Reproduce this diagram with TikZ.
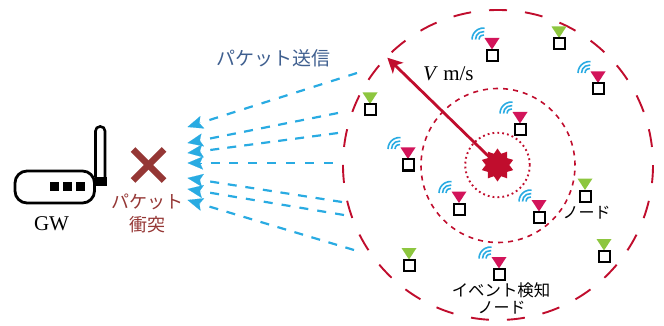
\documentclass[tikz,border=0pt]{standalone}
\usepackage{fontspec}
\setmainfont{Liberation Serif}
\newfontfamily\jp{Noto Sans CJK JP}
\usetikzlibrary{arrows.meta,calc,shapes.geometric}
\definecolor{ringred}{HTML}{C00D2D}
\definecolor{nodered}{HTML}{D2145A}
\definecolor{nodegreen}{HTML}{8DC63F}
\definecolor{skyblue}{HTML}{29ABE2}
\definecolor{brick}{HTML}{953735}
\definecolor{slateblue}{HTML}{3F5F8F}
\tikzset{
  sqbox/.style={draw=black,fill=white,line width=2pt,minimum size=11pt,inner sep=0pt,outer sep=0pt},
  ring/.style={draw=ringred,circle,inner sep=0pt,outer sep=0pt},
  wave/.style={draw=skyblue,line width=1.6pt},
  flowdash/.style={draw=skyblue,line width=2.2pt},
  flowhead/.style={draw=skyblue,line width=0.1pt,-{Stealth[length=15.5pt,width=13pt,inset=3pt,fill=skyblue]}},
  jplabel/.style={font=\jp\fontsize{#1}{#1}\selectfont,inner sep=0pt},
  serif/.style={font=\fontsize{21}{21}\selectfont,inner sep=0pt}
}
\newcommand\sensor[4]{%
  \fill[#4] (#2-7.5,#3-17.5) -- (#2+7.5,#3-17.5) -- (#2,#3-6) -- cycle;
  \node[sqbox] (#1) at (#2,#3) {};}
\newcommand\waves[2]{%
  \foreach \r in {4.5,8,11.5}{
    \draw[wave] (#1-8.5-\r,#2-16) arc[start angle=180,end angle=85,radius=\r pt];}}
\begin{document}
\begin{tikzpicture}[x=1pt,y=-1pt]
\useasboundingbox (0,0) rectangle (664,326);
% rings
\node[ring,line width=1.9pt,minimum size=310pt,dash pattern=on 18pt off 18.07pt,dash phase=18pt] (outer) at (498,165) {};
\node[ring,line width=1.6pt,minimum size=154pt,dash pattern=on 5pt off 5.08pt] (middle) at (498,165.5) {};
\node[ring,line width=1.9pt,minimum size=64.5pt,dash pattern=on 1.8pt off 3.1pt] (inner) at (497.5,165) {};
% burst and velocity arrow
\node[star,star points=10,star point ratio=1.4,fill=ringred,inner sep=0pt,minimum size=33pt] (burst) at (497.5,165) {};
\coordinate (vtip) at (387.3,57.7);
\draw[ringred,line width=2.8pt,-{Stealth[length=15pt,width=15pt,inset=4pt]}] (burst.center) -- (vtip);
\node[serif,anchor=west] (vlabel) at (423,74) {\textit{V} m/s};
% sensors
\waves{492}{55.5}\sensor{n1}{492}{55.5}{nodered}
\sensor{n2}{559}{44}{nodegreen}
\waves{598}{89}\sensor{n3}{598}{89}{nodered}
\sensor{n4}{370}{110}{nodegreen}
\waves{520}{129.5}\sensor{n5}{520}{129.5}{nodered}
\waves{408}{165}\sensor{n6}{408}{165}{nodered}
\waves{459}{209}\sensor{n7}{459}{209}{nodered}
\waves{539}{217.5}\sensor{n8}{539}{217.5}{nodered}
\sensor{n9}{585}{196}{nodegreen}
\sensor{n10}{604}{256.5}{nodegreen}
\waves{499}{274.5}\sensor{n11}{499}{274.5}{nodered}
\sensor{n12}{409}{265.5}{nodegreen}
% labels
\node[jplabel=16] (lnode) at (586.5,213) {ノード};
\node[jplabel=16.4] (levent) at (501,290) {イベント検知};
\node[jplabel=16] (levent2) at (501.5,308) {ノード};
\node[jplabel=19,text=slateblue] (lsend) at (273.5,58) {パケット送信};
\node[jplabel=18,text=brick] (lcoll1) at (147.5,202) {パケット};
\node[jplabel=18,text=brick] (lcoll2) at (147.5,225) {衝突};
\node[serif] (lgw) at (51.5,224) {GW};
% packet arrows
\foreach \i/\sx/\sy/\tx/\ty in {
  1/357/73/187.5/127,
  2/338/113/187.5/143,
  3/338/133/187.5/153,
  4/333/163/187.5/163,
  5/342/202/187.5/178,
  6/344/215/187.5/189,
  7/354/250/187.5/200}{
  \coordinate (s\i) at (\sx,\sy);
  \coordinate (t\i) at (\tx,\ty);
  \pgfmathsetmacro\dlen{veclen(\sx-\tx,\sy-\ty)-23}
  \pgfmathsetmacro\dper{(\dlen-9)/round((\dlen-9)/17.5)}
  \pgfmathsetmacro\doff{\dper-9}
  \draw[flowdash,dash pattern=on 9pt off \doff pt] ($(t\i)!23pt!(s\i)$) -- (s\i);
  \draw[flowhead] ($(t\i)!14pt!(s\i)$) -- (t\i);
}
% collision cross
\coordinate (xc) at (148.5,165);
\draw[brick,line width=6.5pt] ($(xc)+(-15.5,-15.5)$) -- ($(xc)+(15.5,15.5)$);
\draw[brick,line width=6.5pt] ($(xc)+(15.5,-15.5)$) -- ($(xc)+(-15.5,15.5)$);
% gateway
\draw[black,line width=2.6pt,rounded corners=4.5pt,fill=white] (95.5,177) -- (95.5,126.5) -- (105,126.5) -- (105,177);
\fill[black] (95,177) rectangle (106.7,186);
\draw[black,line width=2.8pt,rounded corners=12pt] (15,171) rectangle (94.5,203);
\fill[black] (49.5,181.5) rectangle (58.5,191);
\fill[black] (62.5,181.5) rectangle (71.5,191);
\fill[black] (75.5,181.5) rectangle (84.5,191);
\end{tikzpicture}
\end{document}
